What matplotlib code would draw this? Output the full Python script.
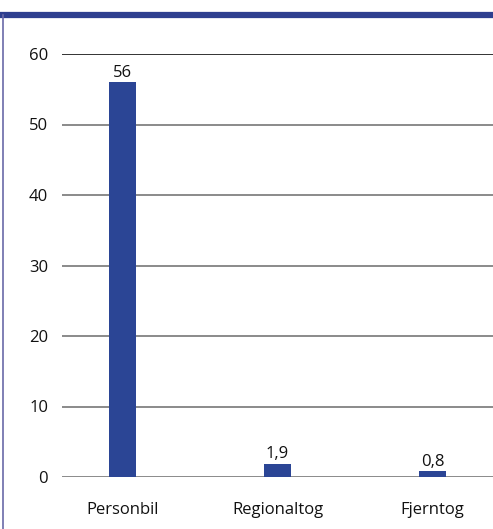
import matplotlib
matplotlib.use('Agg')
import matplotlib.pyplot as plt
from matplotlib.lines import Line2D

plt.rcParams['font.family'] = ['Open Sans', 'DejaVu Sans']

# transport mode and value
categories = ['Personbil', 'Regionaltog', 'Fjerntog']
values = [56, 1.9, 0.8]
value_labels = ['56', '1,9', '0,8']
yticks = [0, 10, 20, 30, 40, 50, 60]

fig = plt.figure(figsize=(4.93, 5.29), dpi=100)
ax = fig.add_axes([62 / 493, 1 - 477 / 529, 431 / 493, 423 / 529])

x = list(range(len(categories)))
bars = ax.bar(x, values, width=0.17, color='#2b4595', zorder=3)

for xi, v, lab in zip(x, values, value_labels):
    ax.text(xi, v + 0.2, lab, ha='center', va='bottom', fontsize=12, color='#111111')

# horizontal guide lines
for t in yticks:
    col = '#111111' if t == 60 else '#8a8a8a'
    ax.axhline(t, color=col, linewidth=1.2 if t == 60 else 1.4, zorder=1)

ax.set_xlim(-0.39, 2.39)
ax.set_ylim(0, 60)
ax.set_yticks(yticks)
ax.set_yticklabels([str(t) for t in yticks], fontsize=12)
ax.set_xticks(x)
ax.set_xticklabels(categories, fontsize=12)
ax.tick_params(axis='both', length=0, colors='#111111')
ax.tick_params(axis='y', pad=10)
ax.tick_params(axis='x', pad=18)
for s in ax.spines.values():
    s.set_visible(False)

# frame: blue band on top and thin line on the left
fig.add_artist(Line2D([0, 1], [1 - 15 / 529, 1 - 15 / 529], transform=fig.transFigure,
                      color='#2e3f8f', linewidth=4.5))
fig.add_artist(Line2D([3 / 493, 3 / 493], [0, 1 - 15 / 529], transform=fig.transFigure,
                      color='#6a6aa8', linewidth=1.2))

fig.savefig('out.png', dpi=100)
